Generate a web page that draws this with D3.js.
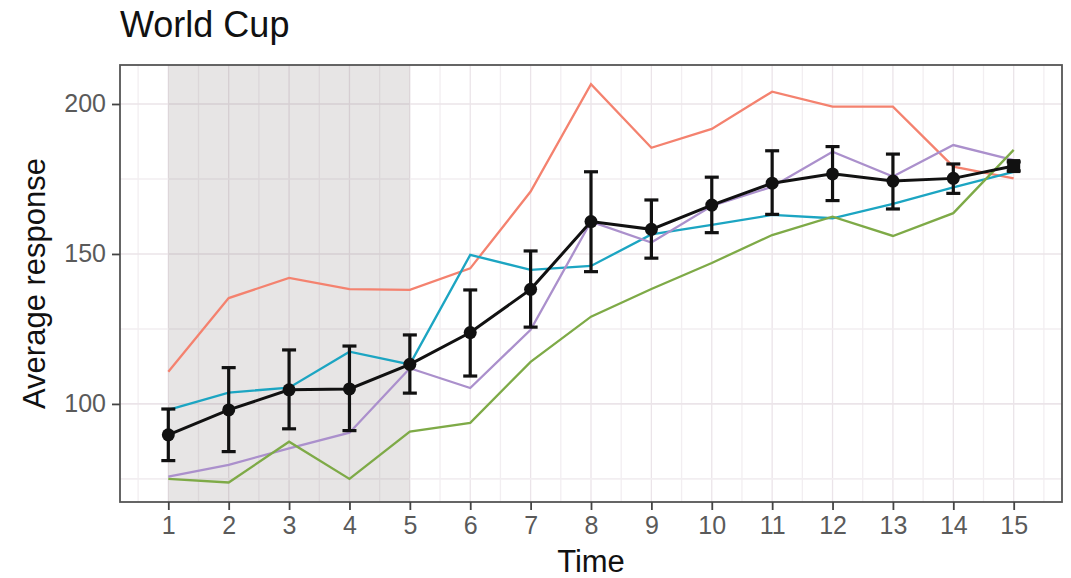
<!DOCTYPE html>
<meta charset="utf-8">
<html>
<head>
<style>
  body { margin: 0; background: #fff; }
  .axis text { fill: #5a5a5a; font-size: 25px; font-family: "Liberation Sans", Arial, sans-serif; }
  .axis line { stroke: #444; stroke-width: 1.8; }
  .axisLabel { font-family: "Liberation Sans", Arial, sans-serif; font-size: 31px; fill: #111; }
  .title { font-family: "Liberation Sans", Arial, sans-serif; font-size: 36px; fill: #111; }
</style>
</head>
<body>
<script src="https://d3js.org/d3.v7.min.js"></script>
<div id="chart"></div>
<script>
// time points
var times = [1,2,3,4,5,6,7,8,9,10,11,12,13,14,15];

// individual series
var red    = [110.7,135.3,142,138.3,138,145.2,170.8,206.6,185.4,191.7,204.1,199.1,199.1,179.1,175.2];
var cyan   = [98,103.8,105.4,117.4,113.2,149.7,144.7,146,156.5,159.7,163,161.9,166.7,172.2,177.4];
var purple = [75.8,79.7,85.2,90.4,111.9,105.3,124.7,160.8,153.8,166,172.4,184.1,175.8,186.3,181.3];
var green  = [75,73.8,87.4,75,90.8,93.7,114,129.1,138.3,147,156.3,162.4,156,163.6,184.7];

// mean with error bars
var meanVal = [89.7,98,104.7,105,113.2,123.8,138.2,160.8,158.2,166.3,173.6,176.7,174.3,175.2,179.3];
var meanHi  = [98.3,112.1,118,119.3,123,138,151,177.4,168,175.6,184.4,185.8,183.3,180,180.7];
var meanLo  = [81.1,84.1,91.7,91.1,103.6,109.3,125.6,144.1,148.6,157.1,163.2,167.8,165,170.2,177.7];
var meanShape = ["c","c","c","c","c","c","c","c","c","c","c","c","c","c","s"];

var yTicks = [100,150,200];
var shadeRange = [1,5];

var W = 1071, H = 578;
var margin = {top: 65, right: 9, bottom: 76, left: 120};
var width = W - margin.left - margin.right,
    height = H - margin.top - margin.bottom;

var svg = d3.select("#chart").append("svg")
    .attr("width", W).attr("height", H)
  .append("g")
    .attr("transform", "translate(" + margin.left + "," + margin.top + ")");

var x = d3.scaleLinear().domain([0.2, 15.8]).range([0, width]);
var y = d3.scaleLinear().domain([67.3, 213]).range([height, 0]);

// grid
var xGrid = d3.range(0.5, 16, 0.5);
var yGrid = [75,100,125,150,175,200];
svg.selectAll(".vgrid").data(xGrid).enter().append("line")
  .attr("x1", d => x(d)).attr("x2", d => x(d))
  .attr("y1", 0).attr("y2", height)
  .attr("stroke", d => d % 1 === 0 ? "#ebe4e9" : "#f2eef1")
  .attr("stroke-width", 1.3);
svg.selectAll(".hgrid").data(yGrid).enter().append("line")
  .attr("x1", 0).attr("x2", width)
  .attr("y1", d => y(d)).attr("y2", d => y(d))
  .attr("stroke", d => d % 50 === 0 ? "#ebe4e9" : "#f2eef1")
  .attr("stroke-width", 1.6);

// shaded period
svg.append("rect")
  .attr("x", x(shadeRange[0])).attr("width", x(shadeRange[1]) - x(shadeRange[0]))
  .attr("y", 0).attr("height", height)
  .attr("fill", "rgb(110,100,100)").attr("opacity", 0.17);

var line = d3.line().x((d, i) => x(times[i])).y(d => y(d));

var series = [
  {vals: red, color: "#f4826f"},
  {vals: cyan, color: "#1ca5c2"},
  {vals: purple, color: "#ab90cc"},
  {vals: green, color: "#7eaa47"}
];
svg.selectAll(".series").data(series).enter().append("path")
  .attr("d", d => line(d.vals))
  .attr("fill", "none")
  .attr("stroke", d => d.color)
  .attr("stroke-width", 2.3);

// mean line
svg.append("path")
  .attr("d", line(meanVal))
  .attr("fill", "none").attr("stroke", "#111").attr("stroke-width", 3);

// error bars
var eb = svg.selectAll(".eb").data(times).enter().append("g");
eb.append("line")
  .attr("x1", d => x(d)).attr("x2", d => x(d))
  .attr("y1", (d, i) => y(meanHi[i])).attr("y2", (d, i) => y(meanLo[i]))
  .attr("stroke", "#111").attr("stroke-width", 3.2);
eb.append("line")
  .attr("x1", d => x(d) - 7).attr("x2", d => x(d) + 7)
  .attr("y1", (d, i) => y(meanHi[i])).attr("y2", (d, i) => y(meanHi[i]))
  .attr("stroke", "#111").attr("stroke-width", 3.2);
eb.append("line")
  .attr("x1", d => x(d) - 7).attr("x2", d => x(d) + 7)
  .attr("y1", (d, i) => y(meanLo[i])).attr("y2", (d, i) => y(meanLo[i]))
  .attr("stroke", "#111").attr("stroke-width", 3.2);
eb.filter((d, i) => meanShape[i] === "c").append("circle")
  .attr("cx", d => x(d)).attr("cy", d => y(meanVal[times.indexOf(d)]))
  .attr("r", 6.5).attr("fill", "#111");
eb.filter((d, i) => meanShape[i] === "s").append("rect")
  .attr("x", d => x(d) - 6.5).attr("y", d => y(meanVal[times.indexOf(d)]) - 7)
  .attr("width", 13).attr("height", 14).attr("fill", "#111");

// panel border
svg.append("rect")
  .attr("x", 0).attr("y", 0).attr("width", width).attr("height", height)
  .attr("fill", "none").attr("stroke", "#555").attr("stroke-width", 1.8);

// axes
svg.append("g")
  .attr("class", "axis")
  .attr("transform", "translate(0," + height + ")")
  .call(d3.axisBottom(x).tickValues(times).tickSize(8).tickPadding(6).tickFormat(d3.format("d")));
svg.append("g")
  .attr("class", "axis")
  .call(d3.axisLeft(y).tickValues(yTicks).tickSize(8).tickPadding(6));
d3.selectAll(".axis path.domain").remove();

// labels
svg.append("text").attr("class", "axisLabel")
  .attr("x", width / 2).attr("y", height + 70)
  .attr("text-anchor", "middle").text("Time");
svg.append("text").attr("class", "axisLabel")
  .attr("transform", "rotate(-90)")
  .attr("x", -height / 2).attr("y", -75)
  .attr("text-anchor", "middle").text("Average response");
svg.append("text").attr("class", "title")
  .attr("x", 0).attr("y", -28).text("World Cup");
</script>
</body>
</html>
